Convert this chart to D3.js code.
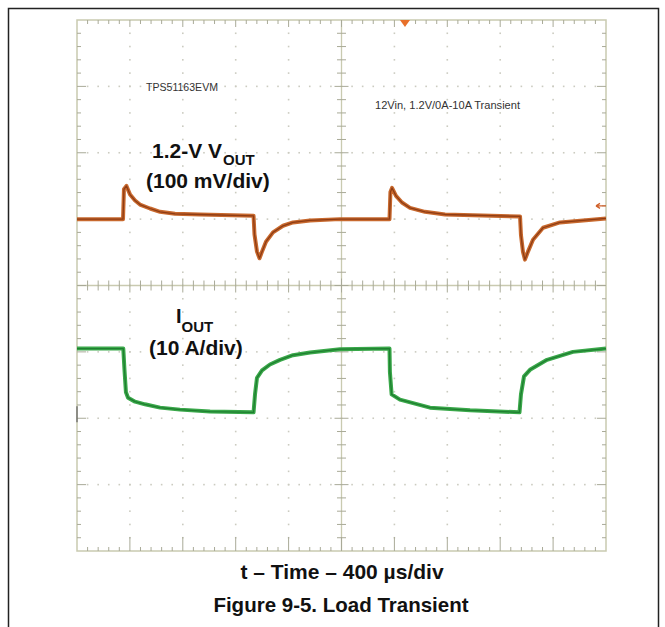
<!DOCTYPE html>
<html><head><meta charset="utf-8">
<script src="https://cdn.jsdelivr.net/npm/d3@7"></script>
<style>html,body{margin:0;padding:0;background:#fff;}svg{display:block;}</style>
</head><body>
<svg id="c" width="665" height="627"></svg>
<script>
// ---- data ----
// time in microseconds (400 us/div, 10 div)
const voutTime = [0,348,355,374,401,439,476,552,628,741,930,1335,1342,1361,1380,1399,1429,1482,1558,1633,1762,1989,2363,2370,2382,2412,2457,2518,2631,2783,3350,3357,3372,3387,3410,3448,3524,3652,4000];
// Vout deviation from 1.2 V, mV (100 mV/div)
const voutMv = [0,0,45,50,37,28,22,16,11,8,7,5,-23,-49,-59,-49,-34,-20,-10,-5,-2,0,0,41,47,35,25,17,11,7,4,-24,-49,-61,-49,-31,-13,-5,1];
const ioutTime = [0,350,359,370,386,439,514,628,779,1006,1335,1346,1361,1399,1459,1535,1633,1762,1989,2363,2366,2379,2442,2669,2972,3346,3357,3380,3425,3554,3750,4000];
// Iout, A (10 A/div)
const ioutA = [10.1,10.1,6.9,3.5,2.7,2.1,1.7,1.2,0.9,0.6,0.5,3.2,5.7,6.8,7.7,8.4,9.1,9.5,10.0,10.1,6.6,3.2,2.4,1.2,0.8,0.5,3.2,5.9,6.9,8.4,9.6,10.1];
const xMajorTicks = [0,400,800,1200,1600,2000,2400,2800,3200,3600,4000];
const yMajorTicks = [-4,-3,-2,-1,0,1,2,3,4];
const labelTopLeft = "TPS51163EVM";
const labelTopRight = "12Vin, 1.2V/0A-10A Transient";
const xAxisTitle = "t \u2013 Time \u2013 400 \u00b5s/div";
const caption = "Figure 9-5. Load Transient";

// ---- drawing ----
const svg = d3.select("#c");
const x = d3.scaleLinear().domain([0,4000]).range([77,606]);
const y = d3.scaleLinear().domain([-4,4]).range([551,20]);
const voutOffset = 1.0, ioutOffset = -1.96;

svg.append("rect").attr("x",8.5).attr("y",8.5).attr("width",650).attr("height",640)
  .attr("fill","none").attr("stroke","#222").attr("stroke-width",1.5);

const grid = svg.append("g");
const gcol = "#c9cab0", tcol = "#a9aa98", dcol = "#cbcbc0";
const xMinor = d3.range(0,4000.001,80);
const yMinor = d3.range(-4,4.0001,0.2);
// dots along major lines
yMajorTicks.filter(v=>v!==0 && Math.abs(v)!==4).forEach(v=>{
  grid.selectAll(null).data(xMinor.filter(t=>t>0&&t<4000)).enter().append("rect")
    .attr("x",d=>x(d)-0.8).attr("y",y(v)-0.8).attr("width",1.6).attr("height",1.6).attr("fill",dcol);
});
xMajorTicks.filter(v=>v!==2000 && v!==0 && v!==4000).forEach(v=>{
  grid.selectAll(null).data(yMinor.filter(t=>Math.abs(t)<3.99)).enter().append("rect")
    .attr("x",x(v)-0.8).attr("y",d=>y(d)-0.8).attr("width",1.6).attr("height",1.6).attr("fill",dcol);
});
// frame
grid.append("rect").attr("x",x(0)).attr("y",y(4)).attr("width",x(4000)-x(0)).attr("height",y(-4)-y(4))
  .attr("fill","none").attr("stroke",gcol).attr("stroke-width",1.5);
// center lines
grid.append("line").attr("x1",x(0)).attr("x2",x(4000)).attr("y1",y(0)).attr("y2",y(0)).attr("stroke",gcol).attr("stroke-width",1.3);
grid.append("line").attr("x1",x(2000)).attr("x2",x(2000)).attr("y1",y(4)).attr("y2",y(-4)).attr("stroke",gcol).attr("stroke-width",1.3);
const isMajX = t => Math.abs(t/400-Math.round(t/400))<1e-6;
const isMajY = v => Math.abs(v-Math.round(v))<1e-6;
// x ticks: top, bottom, center
xMinor.filter(t=>t>0&&t<4000).forEach(t=>{
  const maj = isMajX(t);
  grid.append("line").attr("x1",x(t)).attr("x2",x(t)).attr("y1",y(4)).attr("y2",y(4)+(maj?7:4)).attr("stroke",tcol);
  grid.append("line").attr("x1",x(t)).attr("x2",x(t)).attr("y1",y(-4)).attr("y2",y(-4)-(maj?14:4)).attr("stroke",tcol);
  grid.append("line").attr("x1",x(t)).attr("x2",x(t)).attr("y1",y(0)-(maj?7:5)).attr("y2",y(0)+(maj?7:5)).attr("stroke",tcol);
});
yMinor.filter(v=>Math.abs(v)<3.99).forEach(v=>{
  const maj = isMajY(v);
  grid.append("line").attr("x1",x(0)).attr("x2",x(0)+(maj?9:4)).attr("y1",y(v)).attr("y2",y(v)).attr("stroke",tcol);
  grid.append("line").attr("x1",x(4000)).attr("x2",x(4000)-(maj?9:4)).attr("y1",y(v)).attr("y2",y(v)).attr("stroke",tcol);
  grid.append("line").attr("x1",x(2000)-(maj?7:4.5)).attr("x2",x(2000)+(maj?7:4.5)).attr("y1",y(v)).attr("y2",y(v)).attr("stroke",tcol);
});

// trigger marker & reference markers
const trigT = 2480;
svg.append("path").attr("d",`M${x(trigT)-5},${y(4)} L${x(trigT)+5},${y(4)} L${x(trigT)},${y(4)+7} Z`).attr("fill","#e8702a");
svg.append("path").attr("d",`M${x(4000)},${y(1.2)} L${x(4000)-10},${y(1.2)} M${x(4000)-10},${y(1.2)} l4,-2.5 M${x(4000)-10},${y(1.2)} l4,2.5`)
  .attr("stroke","#d0602a").attr("stroke-width",1.3).attr("fill","none");
svg.append("line").attr("x1",x(0)).attr("x2",x(0)).attr("y1",y(-1.82)).attr("y2",y(-2.06)).attr("stroke","#666").attr("stroke-width",1.3);

// traces
const lineV = d3.line().x((d,i)=>x(voutTime[i])).y(d=>y(voutOffset + d/100));
const lineI = d3.line().x((d,i)=>x(ioutTime[i])).y(d=>y(ioutOffset + d/10));
svg.append("path").attr("d",lineV(voutMv)).attr("fill","none").attr("stroke","#c8692e").attr("stroke-width",4).attr("stroke-linejoin","round");
svg.append("path").attr("d",lineV(voutMv)).attr("fill","none").attr("stroke","#8e3c14").attr("stroke-width",1.3).attr("stroke-linejoin","round");
svg.append("path").attr("d",lineI(ioutA)).attr("fill","none").attr("stroke","#3aa84a").attr("stroke-width",4).attr("stroke-linejoin","round");
svg.append("path").attr("d",lineI(ioutA)).attr("fill","none").attr("stroke","#1f7f30").attr("stroke-width",1.3).attr("stroke-linejoin","round");

// small labels
svg.append("text").attr("x",146).attr("y",91).attr("font-family","'Liberation Sans Narrow','Liberation Sans',Arial").attr("font-size",11)
  .attr("textLength",72).attr("lengthAdjust","spacingAndGlyphs").attr("fill","#333").text(labelTopLeft);
svg.append("text").attr("x",375).attr("y",109).attr("font-family","'Liberation Sans Narrow','Liberation Sans',Arial").attr("font-size",11)
  .attr("textLength",145).attr("lengthAdjust","spacingAndGlyphs").attr("fill","#333").text(labelTopRight);

// channel labels
const bold = "'Liberation Sans',Arial,sans-serif";
const t1 = svg.append("text").attr("x",152).attr("y",158).attr("font-family",bold).attr("font-weight","bold").attr("font-size",21).attr("fill","#111");
t1.append("tspan").text("1.2-V V");
t1.append("tspan").attr("dx",1).attr("dy",7).attr("font-size",15).text("OUT");
svg.append("text").attr("x",146).attr("y",188).attr("font-family",bold).attr("font-weight","bold").attr("font-size",21).attr("fill","#111").text("(100 mV/div)");
const t2 = svg.append("text").attr("x",176).attr("y",323).attr("font-family",bold).attr("font-weight","bold").attr("font-size",20).attr("fill","#111");
t2.append("tspan").text("I");
t2.append("tspan").attr("dy",9).attr("font-size",15).text("OUT");
svg.append("text").attr("x",149).attr("y",355).attr("font-family",bold).attr("font-weight","bold").attr("font-size",21).attr("fill","#111").text("(10 A/div)");

// axis title & caption
svg.append("text").attr("x",342).attr("y",579).attr("text-anchor","middle").attr("font-family",bold).attr("font-weight","bold").attr("font-size",21).attr("fill","#111").text(xAxisTitle);
svg.append("text").attr("x",341).attr("y",612).attr("text-anchor","middle").attr("font-family",bold).attr("font-weight","bold").attr("font-size",20.5).attr("fill","#111").text(caption);
</script>
</body></html>
